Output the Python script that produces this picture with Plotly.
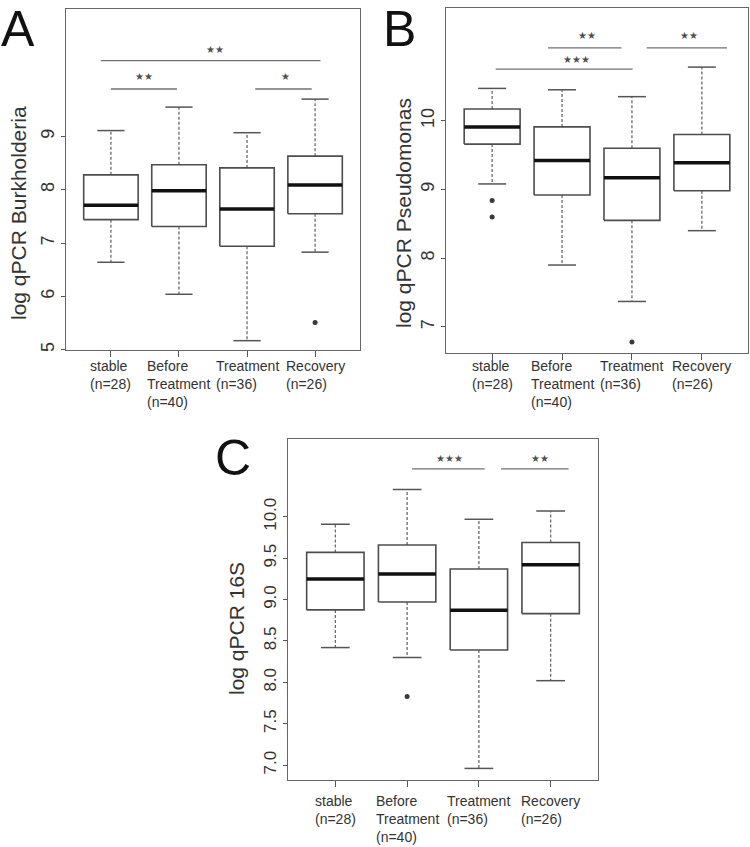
import plotly.graph_objects as go

# ---------------- data ----------------
groups = ["stable<br>(n=28)", "Before<br>Treatment<br>(n=40)", "Treatment<br>(n=36)", "Recovery<br>(n=26)"]
positions = [1, 2, 3, 4]

# Panel A: log qPCR Burkholderia
a_upper = [9.11, 9.55, 9.07, 9.70]
a_q3 = [8.28, 8.47, 8.41, 8.63]
a_median = [7.71, 7.98, 7.64, 8.09]
a_q1 = [7.44, 7.31, 6.94, 7.55]
a_lower = [6.64, 6.04, 5.17, 6.83]
a_out_x = [4]
a_out_y = [5.51]
a_sig_x0 = [0.85, 1.00, 3.12]
a_sig_x1 = [4.08, 1.97, 3.95]
a_sig_y = [10.42, 9.89, 9.89]
a_sig_label = ["**", "**", "*"]
a_sig_lx = [2.53, 1.49, 3.56]
a_sig_ly = [10.63, 10.13, 10.13]
a_yticks = [5, 6, 7, 8, 9]

# Panel B: log qPCR Pseudomonas
b_upper = [10.47, 10.45, 10.35, 10.78]
b_q3 = [10.17, 9.91, 9.60, 9.80]
b_median = [9.91, 9.42, 9.17, 9.39]
b_q1 = [9.66, 8.92, 8.55, 8.98]
b_lower = [9.08, 7.90, 7.37, 8.40]
b_out_x = [1, 1, 3]
b_out_y = [8.84, 8.60, 6.78]
b_sig_x0 = [1.80, 3.21, 1.05]
b_sig_x1 = [2.85, 4.36, 3.01]
b_sig_y = [11.06, 11.06, 10.75]
b_sig_label = ["**", "**", "***"]
b_sig_lx = [2.36, 3.81, 2.20]
b_sig_ly = [11.24, 11.24, 10.89]
b_yticks = [7, 8, 9, 10]

# Panel C: log qPCR 16S
c_upper = [9.91, 10.33, 9.97, 10.07]
c_q3 = [9.57, 9.66, 9.37, 9.69]
c_median = [9.25, 9.31, 8.87, 9.42]
c_q1 = [8.875, 8.97, 8.39, 8.83]
c_lower = [8.42, 8.30, 6.96, 8.02]
c_out_x = [2]
c_out_y = [7.83]
c_sig_x0 = [2.07, 3.31]
c_sig_x1 = [3.08, 4.25]
c_sig_y = [10.58, 10.58]
c_sig_label = ["***", "**"]
c_sig_lx = [2.59, 3.85]
c_sig_ly = [10.70, 10.70]
c_yticks = [7.0, 7.5, 8.0, 8.5, 9.0, 9.5, 10.0]

# ---------------- styling / layout ----------------
W, H = 750, 847
FONT = "Liberation Sans, Arial, sans-serif"
BOX_HALF = 0.4
CAP_HALF = 0.2

panels = [
    dict(name="A", ax="x", ay="y", upper=a_upper, q3=a_q3, med=a_median, q1=a_q1, low=a_lower,
         ox=a_out_x, oy=a_out_y, sx0=a_sig_x0, sx1=a_sig_x1, sy=a_sig_y, sl=a_sig_label,
         slx=a_sig_lx, sly=a_sig_ly, yt=a_yticks, yfmt="d", yr=[4.995, 11.39],
         dom_px=(66, 360, 9, 350), title="log qPCR Burkholderia", title_px=(18, 213),
         letter_px=(18, 0), letter_anchor="top", label_top=356, tfs=18),
    dict(name="B", ax="x2", ay="y2", upper=b_upper, q3=b_q3, med=b_median, q1=b_q1, low=b_lower,
         ox=b_out_x, oy=b_out_y, sx0=b_sig_x0, sx1=b_sig_x1, sy=b_sig_y, sl=b_sig_label,
         slx=b_sig_lx, sly=b_sig_ly, yt=b_yticks, yfmt="d", yr=[6.62, 11.64],
         dom_px=(446, 748, 8, 353), title="log qPCR Pseudomonas", title_px=(403, 213),
         letter_px=(399, 0), letter_anchor="top", label_top=356, tfs=18),
    dict(name="C", ax="x3", ay="y3", upper=c_upper, q3=c_q3, med=c_median, q1=c_q1, low=c_lower,
         ox=c_out_x, oy=c_out_y, sx0=c_sig_x0, sx1=c_sig_x1, sy=c_sig_y, sl=c_sig_label,
         slx=c_sig_lx, sly=c_sig_ly, yt=c_yticks, yfmt=".1f", yr=[6.82, 10.94],
         dom_px=(288, 598, 439, 780), title="log qPCR 16S", title_px=(236, 629),
         letter_px=(233, 458), letter_anchor="middle", label_top=791, tfs=17),
]

fig = go.Figure()
annotations = []
layout_axes = {}

STAR = {"*": "★", "**": "★★", "***": "★★★"}

for p in panels:
    ax, ay = p["ax"], p["ay"]
    # whiskers (dashed)
    wx, wy = [], []
    for i, x in enumerate(positions):
        wx += [x, x, None, x, x, None]
        wy += [p["q3"][i], p["upper"][i], None, p["q1"][i], p["low"][i], None]
    fig.add_trace(go.Scatter(x=wx, y=wy, mode="lines", xaxis=ax, yaxis=ay,
                             line=dict(color="#6a6a6a", width=1.3, dash="3px,2px"),
                             hoverinfo="skip", showlegend=False))
    # caps
    cx, cy = [], []
    for i, x in enumerate(positions):
        cx += [x - CAP_HALF, x + CAP_HALF, None, x - CAP_HALF, x + CAP_HALF, None]
        cy += [p["upper"][i], p["upper"][i], None, p["low"][i], p["low"][i], None]
    fig.add_trace(go.Scatter(x=cx, y=cy, mode="lines", xaxis=ax, yaxis=ay,
                             line=dict(color="#555555", width=1.5),
                             hoverinfo="skip", showlegend=False))
    # boxes
    for i, x in enumerate(positions):
        fig.add_trace(go.Scatter(
            x=[x - BOX_HALF, x + BOX_HALF, x + BOX_HALF, x - BOX_HALF, x - BOX_HALF],
            y=[p["q1"][i], p["q1"][i], p["q3"][i], p["q3"][i], p["q1"][i]],
            mode="lines", fill="toself", fillcolor="white", xaxis=ax, yaxis=ay,
            line=dict(color="#4d4d4d", width=1.6), hoverinfo="skip", showlegend=False))
    # medians
    mx, my = [], []
    for i, x in enumerate(positions):
        mx += [x - BOX_HALF, x + BOX_HALF, None]
        my += [p["med"][i], p["med"][i], None]
    fig.add_trace(go.Scatter(x=mx, y=my, mode="lines", xaxis=ax, yaxis=ay,
                             line=dict(color="#111111", width=3.5),
                             hoverinfo="skip", showlegend=False))
    # outliers
    fig.add_trace(go.Scatter(x=p["ox"], y=p["oy"], mode="markers", xaxis=ax, yaxis=ay,
                             marker=dict(color="#3a3a3a", size=5),
                             hoverinfo="skip", showlegend=False))
    # significance bars
    sx, sy = [], []
    for x0, x1, yv in zip(p["sx0"], p["sx1"], p["sy"]):
        sx += [x0, x1, None]
        sy += [yv, yv, None]
    fig.add_trace(go.Scatter(x=sx, y=sy, mode="lines", xaxis=ax, yaxis=ay,
                             line=dict(color="#707070", width=1.3),
                             hoverinfo="skip", showlegend=False))
    for lab, lx, ly in zip(p["sl"], p["slx"], p["sly"]):
        annotations.append(dict(x=lx, y=ly, xref=ax, yref=ay, text=STAR[lab], showarrow=False,
                                xanchor="center", yanchor="middle",
                                font=dict(family="DejaVu Sans", size=10, color="#505050")))

    # axes
    l, r, t, b = p["dom_px"]
    xkey = "xaxis" if ax == "x" else "xaxis" + ax[1:]
    ykey = "yaxis" if ay == "y" else "yaxis" + ay[1:]
    layout_axes[xkey] = dict(domain=[l / W, r / W], range=[0.34, 4.66], anchor=ay,
                             tickvals=positions, showticklabels=False, automargin=False,
                             ticks="outside", ticklen=6, tickcolor="#555555", tickwidth=1,
                             showline=True, mirror=True, linecolor="#666666", linewidth=1.2,
                             showgrid=False, zeroline=False, fixedrange=True)
    layout_axes[ykey] = dict(domain=[1 - b / H, 1 - t / H], range=p["yr"], anchor=ax,
                             tickvals=p["yt"], tickformat=p["yfmt"], tickangle=-90,
                             automargin=False,
                             tickfont=dict(family=FONT, size=p["tfs"], color="#333333"),
                             ticks="outside", ticklen=4, tickcolor="#555555", tickwidth=1,
                             showline=True, mirror=True, linecolor="#666666", linewidth=1.2,
                             showgrid=False, zeroline=False, fixedrange=True)

    # x category labels (left-aligned lines, block centered at tick)
    for g, x in zip(groups, positions):
        annotations.append(dict(x=x, y=1 - p["label_top"] / H, xref=ax, yref="paper",
                                text=g, showarrow=False, xanchor="center", yanchor="top",
                                align="left",
                                font=dict(family=FONT, size=14, color="#333333")))
    # axis title
    tx, ty = p["title_px"]
    annotations.append(dict(x=tx / W, y=1 - ty / H, xref="paper", yref="paper",
                            text=p["title"], textangle=-90, showarrow=False,
                            xanchor="center", yanchor="middle",
                            font=dict(family=FONT, size=21, color="#333333")))
    # panel letter
    lx, ly = p["letter_px"]
    annotations.append(dict(x=lx / W, y=1 - ly / H, xref="paper", yref="paper",
                            text=p["name"], showarrow=False,
                            xanchor="center", yanchor=p["letter_anchor"], borderpad=0,
                            font=dict(family=FONT, size=50, color="#111111")))

fig.update_layout(width=W, height=H, margin=dict(l=0, r=0, t=0, b=0, autoexpand=False),
                  paper_bgcolor="white", plot_bgcolor="white",
                  showlegend=False, annotations=annotations, **layout_axes)

fig.write_html("out.html", config={"displayModeBar": False, "staticPlot": True},
               post_script="document.body.style.margin='0';document.body.style.overflow='hidden';")
